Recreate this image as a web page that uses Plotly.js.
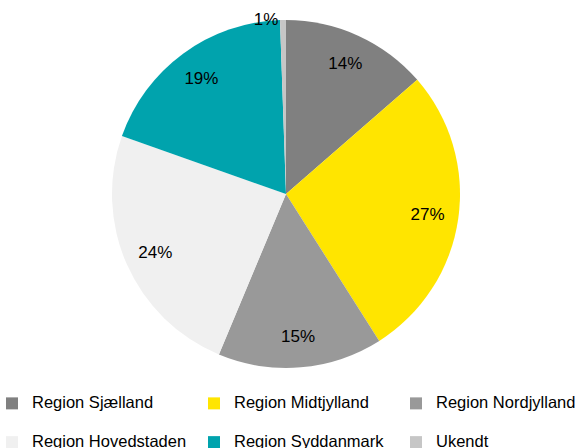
<!DOCTYPE html>
<html>
<head>
<meta charset="utf-8">
<script src="https://cdn.plot.ly/plotly-3.0.1.min.js"></script>
<style>html,body{margin:0;padding:0;background:#fff;overflow:hidden;}#chart{width:610px;height:448px;}</style>
</head>
<body>
<div id="chart"></div>
<script>
var categories = ["Region Sjælland", "Region Midtjylland", "Region Nordjylland", "Region Hovedstaden", "Region Syddanmark", "Ukendt"];
var shares = [13.6, 27.4, 15.3, 24.1, 19.05, 0.55];
var sliceColors = ["#808080", "#FFE500", "#999999", "#F0F0F0", "#00A3AD", "#C6C6C6"];
var textPositions = ["inside", "inside", "inside", "inside", "inside", "outside"];

var FONT = '"Liberation Sans", Arial, sans-serif';
var W = 610, H = 448, MB = 70, PH = H - MB;

function dom(cx, cy, r) {
  return { x: [(cx - r) / W, (cx + r) / W], y: [(PH - cy - r) / PH, (PH - cy + r) / PH] };
}

var legendLabels = categories.map(function (c) {
  return '<span style="font-size:16.5px;baseline-shift:6px">' + c + '</span>';
});

var pieMain = {
  type: 'pie',
  labels: legendLabels,
  values: shares,
  sort: false,
  direction: 'clockwise',
  rotation: 0,
  marker: { colors: sliceColors, line: { width: 0 } },
  textinfo: 'none',
  hoverinfo: 'none',
  domain: dom(286, 194, 174)
};

var pieLabels = {
  type: 'pie',
  labels: legendLabels,
  values: shares,
  sort: false,
  direction: 'clockwise',
  rotation: 0,
  hole: 0.7333,
  showlegend: false,
  marker: { colors: categories.map(function () { return 'rgba(0,0,0,0)'; }), line: { width: 0 } },
  texttemplate: '%{percent:.0%}',
  textposition: textPositions,
  insidetextorientation: 'horizontal',
  textfont: { family: FONT, size: 17, color: '#000' },
  outsidetextfont: { family: FONT, size: 17, color: '#000' },
  hoverinfo: 'none',
  domain: dom(286, 194, 165)
};

var layout = {
  width: W,
  height: H,
  margin: { l: 0, r: 0, t: 0, b: MB, autoexpand: false },
  paper_bgcolor: '#fff',
  font: { family: FONT, color: '#000' },
  showlegend: true,
  legend: {
    orientation: 'h',
    x: -8 / W,
    xanchor: 'left',
    y: (PH - 379) / PH,
    yanchor: 'top',
    entrywidth: 157,
    entrywidthmode: 'pixels',
    traceorder: 'normal',
    font: { family: FONT, size: 27.5, color: '#000' },
    bgcolor: 'rgba(0,0,0,0)'
  }
};

Plotly.newPlot('chart', [pieMain, pieLabels], layout, { displayModeBar: false, staticPlot: true });
</script>
</body>
</html>
